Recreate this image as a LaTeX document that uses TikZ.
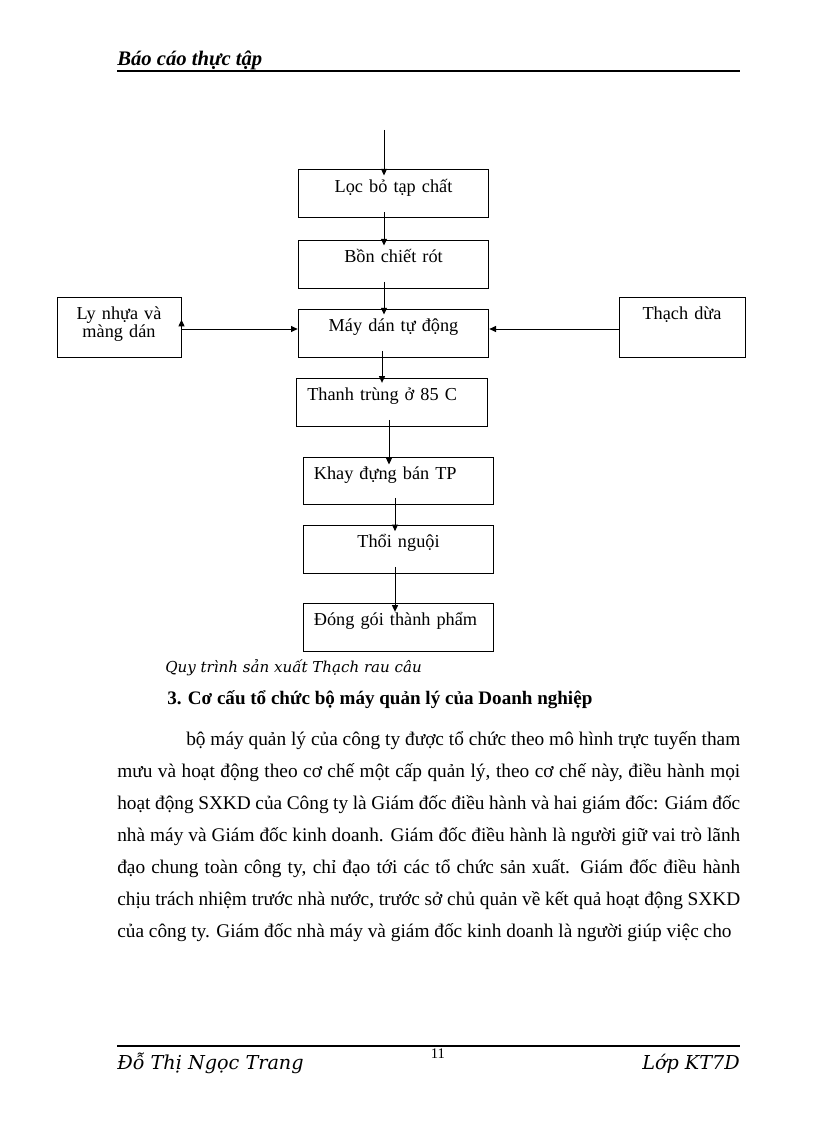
\documentclass[tikz,border=0pt]{standalone}
\usepackage{fontspec}
\setmainfont{Liberation Serif}
\newfontfamily\chunghieng{DejaVu Serif}
\usetikzlibrary{arrows.meta}
\newcommand\cochu[2]{\fontsize{#1}{#2}\selectfont}
\newcommand\dong[1]{\makebox[467.25pt][s]{#1}}

\begin{document}
\begin{tikzpicture}[x=0.75pt,y=-0.75pt]
\tikzset{hop/.style={draw, line width=0.75pt, inner ysep=0pt, inner xsep=8pt, text width=127pt, align=center, minimum height=36pt, text height=17pt, text depth=19pt, font=\cochu{13.7pt}{12pt}},
hoptrai/.style={hop, align=left},
hopbien/.style={hop, minimum height=45pt, text depth=28pt},
muiten/.style={line width=0.75pt, -{Triangle[length=5pt,width=4.5pt]}},
chu/.style={inner sep=0pt, anchor=base west, font=\cochu{14.5pt}{17pt}}}
\useasboundingbox (0,0) rectangle (816,1123);
\node[inner sep=0pt, anchor=base west, font=\cochu{15.5pt}{18pt}\bfseries\itshape] (TD) at (117,66) {Báo cáo thực tập};
\draw[line width=1.5pt] (117,71) -- (740,71);
\node[hop] (B1) at (393.5,194) {Lọc bỏ tạp chất};
\node[hop] (B2) at (393.5,264) {Bồn chiết rót};
\node[hop] (B3) at (393.5,333) {Máy dán tự động};
\node[hoptrai] (B4) at (392,402) {Thanh trùng ở 85 C};
\node[hoptrai, minimum height=35.25pt, text depth=18.25pt] (B5) at (398.5,480.5) {Khay đựng bán TP};
\node[hop] (B6) at (398.5,549) {Thổi nguội};
\node[hoptrai] (B7) at (398.5,627) {Đóng gói thành phẩm};
\node[hopbien, text width=77pt] (BL) at (119,327) {Ly nhựa và\\màng dán};
\node[hopbien, text width=78.5pt] (BR) at (682,327) {Thạch dừa};
\coordinate (vao) at (384,130);
\coordinate (c1) at (384,0);
\coordinate (c2) at (382,0);
\coordinate (c3) at (389,0);
\coordinate (c4) at (395,0);
\coordinate (r) at (0,329);
\draw[muiten] (vao) -- ([yshift=-4.5pt]B1.north -| c1);
\draw[muiten] ([yshift=4.5pt]B1.south -| c1) -- ([yshift=-4.5pt]B2.north -| c1);
\draw[muiten] ([yshift=5pt]B2.south -| c1) -- ([yshift=-4.5pt]B3.north -| c1);
\draw[muiten] ([yshift=5pt]B3.south -| c2) -- ([yshift=-4pt]B4.north -| c2);
\draw[muiten] ([yshift=5pt]B4.south -| c3) -- ([yshift=-6pt]B5.north -| c3);
\draw[muiten] ([yshift=5pt]B5.south -| c4) -- ([yshift=-5pt]B6.north -| c4);
\draw[muiten] ([yshift=5pt]B6.south -| c4) -- ([yshift=-7pt]B7.north -| c4);
\draw[muiten] (BL.east |- r) -- (B3.west |- r);
\draw[muiten] (BL.east |- r) -- ([yshift=7pt]BL.east |- r);
\draw[muiten] (BR.west |- r) -- (B3.east |- r);
\node[inner sep=0pt, anchor=base west, font=\chunghieng\itshape\cochu{11.3pt}{13pt}] (CT) at (165,672) {Quy trình sản xuất Thạch rau câu};
\node[chu, font=\cochu{14.3pt}{17pt}\bfseries] (M3) at (167,704) {3. Cơ cấu tổ chức bộ máy quản lý của Doanh nghiệp};
\node[chu] (D1) at (186,745) {\makebox[415.5pt][s]{bộ máy quản lý của công ty được tổ chức theo mô hình trực tuyến tham}};
\node[chu] (D2) at (117,777) {\dong{mưu và hoạt động theo cơ chế một cấp quản lý, theo cơ chế này, điều hành mọi}};
\node[chu] (D3) at (117,809) {\dong{hoạt động SXKD của Công ty là Giám đốc điều hành và hai giám đốc: Giám đốc}};
\node[chu] (D4) at (117,841) {\dong{nhà máy và Giám đốc kinh doanh. Giám đốc điều hành là người giữ vai trò lãnh}};
\node[chu] (D5) at (117,873) {\dong{đạo chung toàn công ty, chỉ đạo tới các tổ chức sản xuất. Giám đốc điều hành}};
\node[chu] (D6) at (117,905) {\dong{chịu trách nhiệm trước nhà nước, trước sở chủ quản về kết quả hoạt động SXKD}};
\node[chu] (D7) at (117,937) {của công ty. Giám đốc nhà máy và giám đốc kinh doanh là người giúp việc cho};
\draw[line width=1.5pt] (117,1046) -- (740,1046);
\node[inner sep=0pt, anchor=base west, font=\chunghieng\itshape\cochu{14.4pt}{16pt}] (TG) at (117,1069) {Đỗ Thị Ngọc Trang};
\node[inner sep=0pt, anchor=base, font=\cochu{11pt}{13pt}] (ST) at (438,1058) {11};
\node[inner sep=0pt, anchor=base east, font=\chunghieng\itshape\cochu{14.4pt}{16pt}] (LP) at (740,1069) {Lớp KT7D};
\end{tikzpicture}
\end{document}
